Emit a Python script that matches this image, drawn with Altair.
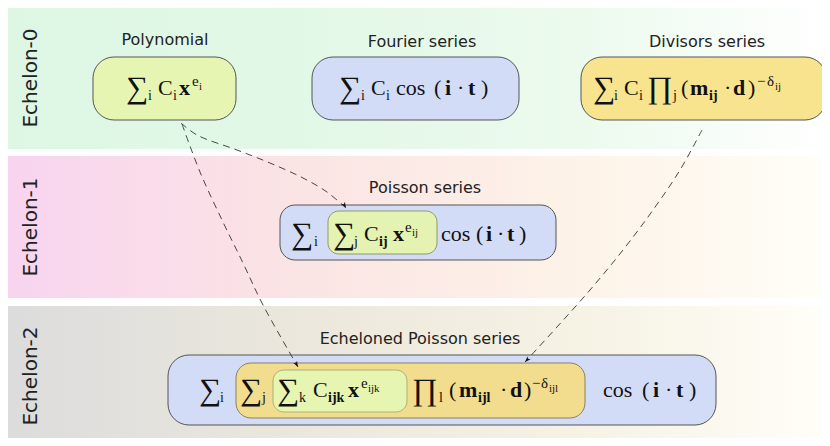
import altair as alt
import pandas as pd

# ---------------- data ----------------
band_labels = ["Echelon-0", "Echelon-1", "Echelon-2"]
band_top = [7, 156, 306]
band_bottom = [149, 298, 446]
band_left = [7, 7, 7]
band_right = [830, 830, 830]
band_label_y = [78, 227, 376]
band_colors = [
    ["#ddf7e4", "#e2f8e6", "#ecfaee", "#ffffff"],
    ["#f8d4ef", "#fbe4e4", "#fdf3e8", "#fffef8"],
    ["#dcdcdc", "#ebe7dc", "#f6f2e4", "#fffef8"],
]
band_offsets = [0.0, 0.35, 0.7, 1.0]

box_names = ["Polynomial", "Fourier", "Divisors", "PoissonOuter", "PoissonInner",
             "EchOuter", "EchYellow", "EchGreen"]
box_x1 = [93, 312, 581, 280, 328, 168, 236, 273]
box_x2 = [236, 519, 826, 556, 437, 716, 585, 407]
box_y1 = [57, 57, 57, 205, 211, 355, 363, 370]
box_y2 = [120, 120, 120, 260, 254, 425, 418, 412]
box_fill = ["#e6f6b2", "#d3dcf7", "#f8e48e", "#d3dcf7", "#e4f3b2",
            "#d3dcf7", "#f2dc8e", "#e6f5b0"]
box_stroke = ["#555555", "#555555", "#555555", "#555555", "#8e9a6a",
              "#555555", "#8a8060", "#a8b27a"]
box_radius_group = ["big", "big", "big", "mid", "small", "big", "mid", "small"]

title_texts = ["Polynomial", "Fourier series", "Divisors series",
               "Poisson series", "Echeloned Poisson series"]
title_x = [165, 422, 707, 425, 420]
title_y = [40, 42, 42, 188, 339]

# formula rows: main text baseline of each row
row_names = ["top", "poisson", "echeloned"]
row_baseline = [95, 241, 397]

# formula tokens: text, left x, style, row
tok_text = [
    # Polynomial
    "∑", "i", "C", "i", "x", "e", "i",
    # Fourier
    "∑", "i", "C", "i", "cos", "(", "i", "·", "t", ")",
    # Divisors
    "∑", "i", "C", "i", "∏", "j", "(", "m", "ij", "·", "d", ")", "−", "δ", "ij",
    # Poisson
    "∑", "i", "∑", "j", "C", "ij", "x", "e", "ij",
    "cos", "(", "i", "·", "t", ")",
    # Echeloned Poisson
    "∑", "i", "∑", "j", "∑", "k", "C", "ijk", "x", "e", "ijk",
    "∏", "l", "(", "m", "ijl", "·", "d", ")", "−", "δ", "ijl",
    "cos", "(", "i", "·", "t", ")",
]
tok_x = [
    126, 148, 158, 173, 179, 192, 199,
    339, 361, 371, 386, 396, 434, 445, 457, 468, 481,
    593, 614, 624, 639, 647, 673, 681, 690, 709, 724, 733, 748, 757, 767, 775,
    291, 314, 333, 354, 364, 379, 393, 405, 412,
    441, 476, 486, 497, 507, 519,
    199, 220, 240, 262, 277, 299, 313, 328, 348, 361, 368,
    412, 439, 449, 459, 478, 500, 510, 524, 532, 541, 549,
    603, 642, 653, 665, 676, 689,
]
tok_style = [
    "op", "sub", "n", "sub", "b", "sup", "supsub",
    "op", "sub", "n", "sub", "n", "n", "b", "n", "b", "n",
    "op", "sub", "n", "sub", "op", "sub", "n", "b", "bsub", "n", "b", "n",
    "sup", "sup", "supsub",
    "op", "sub", "op", "sub", "n", "bsub", "b", "sup", "supsub",
    "n", "n", "b", "n", "b", "n",
    "op", "sub", "op", "sub", "op", "sub", "n", "bsub", "b", "sup", "supsub",
    "op", "sub", "n", "b", "bsub", "n", "b", "n", "sup", "sup", "supsub",
    "n", "n", "b", "n", "b", "n",
]
tok_row = (["top"] * (7 + 10 + 15) + ["poisson"] * 15 + ["echeloned"] * 28)

arrow_id = [1] * 7 + [2] * 6 + [3] * 7
arrow_x = [181, 197, 237, 270, 303, 327, 346,
           182, 200, 222, 243, 263, 298,
           702, 680, 653, 623, 590, 557, 525]
arrow_y = [123, 135, 150, 163, 178, 192, 208,
           124, 172, 220, 263, 305, 367,
           130, 170, 210, 250, 290, 327, 362]
tip_x = [346, 298, 525]
tip_y = [208, 367, 362]
tip_angle = [150, 151, 224]

# ---------------- tables ----------------
boxes = pd.DataFrame({"name": box_names, "x1": box_x1, "x2": box_x2,
                      "y1": box_y1, "y2": box_y2, "fill": box_fill,
                      "stroke": box_stroke, "grp": box_radius_group})
titles = pd.DataFrame({"t": title_texts, "x": title_x, "y": title_y})
base = dict(zip(row_names, row_baseline))
style_dy = {"op": 3, "n": 0, "b": 0, "sub": 5, "bsub": 5, "sup": -9, "supsub": -5}
tokens = pd.DataFrame({"t": tok_text, "x": tok_x, "style": tok_style, "row": tok_row})
tokens["y"] = [base[r] + style_dy[s] for r, s in zip(tokens.row, tokens["style"])]
arrows = pd.DataFrame({"arrow": arrow_id, "x": arrow_x, "y": arrow_y,
                       "i": list(range(len(arrow_id)))})
tips = pd.DataFrame({"x": tip_x, "y": tip_y, "angle": tip_angle})
labels = pd.DataFrame({"t": band_labels, "x": [31, 31, 31], "y": band_label_y})

xs = alt.Scale(domain=[8, 822], nice=False, zero=False)
ys = alt.Scale(domain=[8, 438], nice=False, zero=False, reverse=True)
X = lambda f: alt.X(f, scale=xs, axis=None)
Y = lambda f: alt.Y(f, scale=ys, axis=None)

layers = []
for k in range(3):
    bdf = pd.DataFrame({"x1": [band_left[k]], "x2": [band_right[k]],
                        "y1": [band_top[k]], "y2": [band_bottom[k]]})
    grad = alt.Gradient(
        gradient="linear",
        stops=[alt.GradientStop(color=c, offset=o)
               for c, o in zip(band_colors[k], band_offsets)],
        x1=0, x2=1, y1=0, y2=0,
    )
    layers.append(
        alt.Chart(bdf).mark_rect(fill=grad, clip=True).encode(
            x=X("x1:Q"), x2="x2:Q", y=Y("y1:Q"), y2="y2:Q",
        )
    )

radius = {"big": 21, "mid": 15, "small": 11}
for g in ["big", "mid", "small"]:
    layers.append(
        alt.Chart(boxes[boxes.grp == g]).mark_rect(
            cornerRadius=radius[g], strokeWidth=1
        ).encode(
            x=X("x1:Q"), x2="x2:Q", y=Y("y1:Q"), y2="y2:Q",
            fill=alt.Fill("fill:N", scale=None),
            stroke=alt.Stroke("stroke:N", scale=None),
        )
    )

layers.append(
    alt.Chart(arrows).mark_line(
        strokeDash=[7, 5], color="#333333", strokeWidth=0.9,
        interpolate="catmull-rom"
    ).encode(x=X("x:Q"), y=Y("y:Q"), detail="arrow:N", order="i:Q")
)

layers.append(
    alt.Chart(tips).mark_point(
        shape="M0,0 L0.7,1.9 L0,1.35 L-0.7,1.9 Z",
        filled=True, color="#111111", opacity=1, size=40,
    ).encode(x=X("x:Q"), y=Y("y:Q"), angle=alt.Angle("angle:Q", scale=None))
)

layers.append(
    alt.Chart(titles).mark_text(
        font="DejaVu Sans", fontSize=16, color="#222222",
        align="center", baseline="middle"
    ).encode(x=X("x:Q"), y=Y("y:Q"), text="t:N")
)

style_font = {
    "op": dict(fontSize=31, fontWeight="normal"),
    "n": dict(fontSize=22, fontWeight="normal"),
    "b": dict(fontSize=22, fontWeight="bold"),
    "sub": dict(fontSize=14, fontWeight="normal"),
    "bsub": dict(fontSize=14, fontWeight="bold"),
    "sup": dict(fontSize=15, fontWeight="normal"),
    "supsub": dict(fontSize=11, fontWeight="normal"),
}
for s, kw in style_font.items():
    layers.append(
        alt.Chart(tokens[tokens["style"] == s]).mark_text(
            font="Liberation Serif", color="#111111",
            align="left", baseline="alphabetic", **kw
        ).encode(x=X("x:Q"), y=Y("y:Q"), text="t:N")
    )

layers.append(
    alt.Chart(labels).mark_text(
        font="DejaVu Sans", fontSize=20, color="#222222", angle=270,
        align="center", baseline="middle"
    ).encode(x=X("x:Q"), y=Y("y:Q"), text="t:N")
)

chart = alt.layer(*layers).properties(
    width=814, height=430, padding=0,
    autosize=alt.AutoSizeParams(type="none"),
).configure_view(stroke=None)

chart.save("out.html", embed_options={"renderer": "svg", "actions": False})
